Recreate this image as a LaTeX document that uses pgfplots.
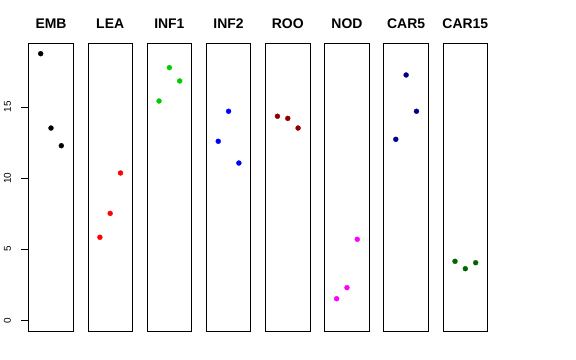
\documentclass[border=0pt]{standalone}
\usepackage{fontspec}
\setmainfont{Liberation Sans}
\usepackage{pgfplots}
\pgfplotsset{compat=1.18}
\definecolor{rgreen}{HTML}{00CD00}
\definecolor{rred}{HTML}{FF0000}
\definecolor{rblue}{HTML}{0000FF}
\definecolor{rmagenta}{HTML}{FF00FF}
\definecolor{rdarkred}{HTML}{8B0000}
\definecolor{rnavy}{HTML}{00008B}
\definecolor{rdarkgreen}{HTML}{006400}
\pgfplotsset{
  panel/.style={
    scale only axis, width=44.6bp, height=288bp,
    anchor=south west,
    xmin=-0.16, xmax=4.16, ymin=-0.75, ymax=19.5,
    xtick=\empty, ytick=\empty,
    axis line style={line width=0.75bp, black},
    title style={font=\fontsize{14}{14}\selectfont\bfseries, anchor=base, at={(0.5,1)}, yshift=9bp, inner sep=0pt},
    clip=false,
  },
  pts/.style={only marks, mark=*, mark size=2.5bp, color=#1, mark options={fill=#1, draw=#1, line width=0.3bp}},
}
\newcommand{\panel}[4]{%
\begin{axis}[panel, at={(28.7bp+#1*59.19bp,29bp)}, title={#2}]
\addplot[pts=#3] coordinates {#4};
\end{axis}}
\begin{document}
\begin{tikzpicture}
\path[use as bounding box] (0,0) rectangle (576bp,360bp);
\begin{axis}[panel, at={(28.7bp,29bp)}, title={EMB},
  ytick={0,5,10,15},
  ytick pos=left, tick align=outside,
  major tick length=7.5bp,
  every tick/.style={draw=black, line width=0.75bp},
  /pgf/number format/assume math mode=true,
  yticklabel style={font=\fontsize{10}{10}\selectfont, rotate=90, anchor=south, inner sep=0pt, yshift=10bp}]
\addplot[pts=black] coordinates {(1,18.75) (2,13.52) (3,12.28)};
\end{axis}
\panel{1}{LEA}{rred}{(1,5.84) (2,7.52) (3,10.36)}
\panel{2}{INF1}{rgreen}{(1,15.42) (2,17.77) (3,16.83)}
\panel{3}{INF2}{rblue}{(1,12.59) (2,14.70) (3,11.06)}
\panel{4}{ROO}{rdarkred}{(1,14.35) (2,14.20) (3,13.52)}
\panel{5}{NOD}{rmagenta}{(1,1.52) (2,2.30) (3,5.70)}
\panel{6}{CAR5}{rnavy}{(1,12.73) (2,17.25) (3,14.70)}
\panel{7}{CAR15}{rdarkgreen}{(1,4.15) (2,3.63) (3,4.05)}
\end{tikzpicture}
\end{document}
